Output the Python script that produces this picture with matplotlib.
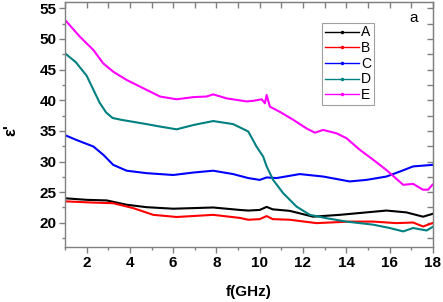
import numpy as np
import matplotlib
matplotlib.use("Agg")
import matplotlib.pyplot as plt
from matplotlib.ticker import MultipleLocator
from matplotlib.lines import Line2D

plt.rcParams["font.family"] = ["Liberation Sans", "DejaVu Sans"]

# ── Data ───────────────────────────────────────────────────────
f_A = [1.0, 2.0, 2.93, 3.85, 4.77, 6.0, 6.93, 7.85, 9.08, 9.47, 10.0, 10.32, 10.6,
       11.39, 12.47, 13.7, 14.93, 15.86, 16.78, 17.55, 17.98]
e_A = [24.0, 23.75, 23.65, 22.95, 22.55, 22.3, 22.4, 22.5, 22.1, 22.0, 22.1, 22.6, 22.2,
       21.95, 21.0, 21.3, 21.7, 22.0, 21.7, 21.0, 21.45]

f_B = [1.0, 2.31, 3.23, 4.15, 5.08, 6.16, 7.85, 9.08, 9.47, 10.0, 10.32, 10.6,
       11.39, 12.62, 14.16, 15.24, 16.32, 17.09, 17.55, 17.98]
e_B = [23.5, 23.3, 23.2, 22.4, 21.3, 20.95, 21.3, 20.8, 20.5, 20.6, 21.1, 20.6,
       20.5, 19.95, 20.2, 20.2, 19.95, 20.05, 19.4, 19.95]

f_C = [1.0, 1.54, 2.31, 2.77, 3.23, 3.85, 4.77, 6.0, 6.93, 7.85, 8.77, 9.47, 10.0,
       10.32, 10.78, 11.85, 12.93, 14.16, 14.93, 15.86, 16.47, 17.09, 17.98]
e_C = [34.3, 33.5, 32.45, 31.1, 29.45, 28.5, 28.1, 27.8, 28.2, 28.5, 27.95, 27.3, 27.0,
       27.4, 27.3, 27.95, 27.55, 26.75, 27.0, 27.55, 28.35, 29.2, 29.45]

f_D = [1.0, 1.5, 2.0, 2.3, 2.6, 2.9, 3.2, 3.6, 4.77, 5.39, 6.16, 6.93, 7.85, 8.77, 9.47,
       9.85, 10.16, 10.32, 10.62, 11.08, 11.70, 12.32, 13.09, 14.01, 15.24, 16.01,
       16.63, 17.09, 17.71, 17.98]
e_D = [47.65, 46.2, 44.0, 41.8, 39.6, 38.0, 37.1, 36.8, 36.1, 35.7, 35.25, 35.95, 36.6,
       36.1, 34.9, 32.45, 30.8, 29.2, 27.0, 24.85, 22.65, 21.3, 20.75, 20.2, 19.7, 19.15,
       18.6, 19.15, 18.75, 19.3]

f_E = [1.0, 1.69, 2.31, 2.77, 3.23, 3.85, 4.62, 5.39, 6.16, 6.93, 7.54, 7.85, 8.47,
       9.39, 9.70, 10.09, 10.24, 10.32, 10.47, 10.93, 11.55, 12.16, 12.55, 12.93,
       13.55, 14.01, 14.63, 15.24, 15.86, 16.63, 17.09, 17.55, 17.78, 17.98]
e_E = [53.1, 50.35, 48.2, 46.0, 44.65, 43.3, 41.95, 40.6, 40.15, 40.5, 40.6, 40.95, 40.3,
       39.8, 39.9, 40.15, 39.5, 40.85, 38.95, 38.1, 36.8, 35.4, 34.7, 35.15,
       34.6, 33.8, 31.9, 30.3, 28.6, 26.2, 26.35, 25.4, 25.4, 26.2]

labels = ["A", "B", "C", "D", "E"]
colours = ["#000000", "#FF0000", "#0000FF", "#008080", "#FF00FF"]
series = [(f_A, e_A), (f_B, e_B), (f_C, e_C), (f_D, e_D), (f_E, e_E)]

# ── Figure ─────────────────────────────────────────────────────
fig = plt.figure(figsize=(4.43, 3.02), dpi=100)
ax = fig.add_axes([0.1467, 0.181, 0.8303, 0.812])

for (fx, ey), c in zip(series, colours):
    ax.plot(fx, ey, color=c, lw=1.5)

ax.set_xlim(1, 18)
ax.set_ylim(16, 56)
ax.xaxis.set_major_locator(MultipleLocator(2))
ax.xaxis.set_minor_locator(MultipleLocator(1))
ax.yaxis.set_minor_locator(MultipleLocator(2.5))
ax.set_yticks(range(20, 56, 5))

grey = "#808080"
for sp in ax.spines.values():
    sp.set_color(grey)
    sp.set_linewidth(1.0)

ax.tick_params(which="major", direction="out", length=4, width=1, color=grey,
               labelsize=11, pad=2)
ax.tick_params(which="minor", direction="out", length=2.5, width=1, color=grey)
for lab in ax.get_xticklabels() + ax.get_yticklabels():
    lab.set_fontweight("bold")

# mirrored inward ticks on top and right
top = ax.secondary_xaxis("top")
top.xaxis.set_major_locator(MultipleLocator(2))
top.xaxis.set_minor_locator(MultipleLocator(1))
top.tick_params(which="both", direction="in", length=4, width=1, color=grey, labeltop=False)
top.spines["top"].set_color(grey)
right = ax.secondary_yaxis("right")
right.yaxis.set_major_locator(MultipleLocator(5))
right.yaxis.set_minor_locator(MultipleLocator(2.5))
right.tick_params(which="both", direction="in", length=4, width=1, color=grey, labelright=False)
right.spines["right"].set_color(grey)

ax.set_xlabel("f(GHz)", fontsize=11, fontweight="bold", labelpad=11)
fig.text(0.025, 0.57, "ε'", rotation=90, fontsize=12, fontweight="bold",
         ha="center", va="center")
ax.text(0.948, 0.935, "a", transform=ax.transAxes, fontsize=11, ha="center", va="center")

handles = [Line2D([], [], color=c, lw=1, marker=".", markersize=3) for c in colours]
leg = ax.legend(handles, labels, loc="upper left", bbox_to_anchor=(0.70, 0.916),
                borderaxespad=0, fontsize=10, handlelength=2.4, handletextpad=0.2,
                labelspacing=0.12, borderpad=0.2, fancybox=False, framealpha=1,
                edgecolor="#a0a0a0")
leg.get_frame().set_linewidth(0.8)

fig.savefig("out.png", dpi=100)
